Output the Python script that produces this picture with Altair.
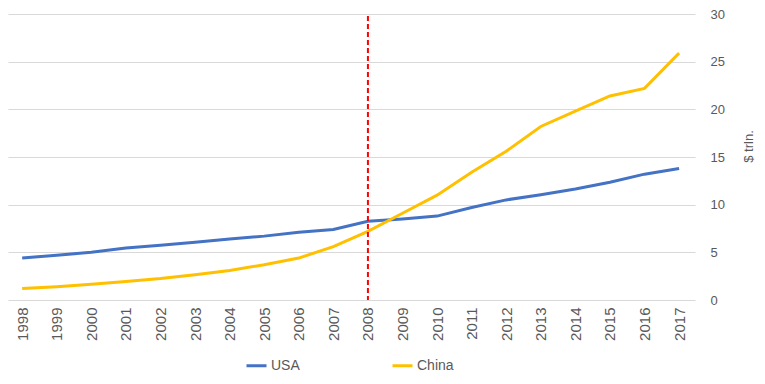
import altair as alt
import pandas as pd

years = list(range(1998, 2018))
usa = [4.4, 4.7, 5.0, 5.45, 5.75, 6.05, 6.4, 6.7, 7.1, 7.4, 8.25, 8.5, 8.8, 9.7, 10.5, 11.05, 11.65, 12.35, 13.2, 13.8]
china = [1.2, 1.4, 1.65, 1.95, 2.25, 2.65, 3.1, 3.7, 4.4, 5.6, 7.2, 9.1, 11.0, 13.4, 15.6, 18.2, 19.8, 21.4, 22.2, 25.9]
series = ["USA", "China"]
colors = ["#4472C4", "#FFC000"]
marker_year = 2008

rows = []
for i, y in enumerate(years):
    rows.append({"year": y, "value": usa[i], "series": "USA"})
    rows.append({"year": y, "value": china[i], "series": "China"})
df = pd.DataFrame(rows)

FONT = "Liberation Sans"
GREY = "#595959"

xscale = alt.Scale(domain=[years[0] - 0.41, years[-1] + 0.46], nice=False, zero=False)
yscale = alt.Scale(domain=[0, 30])

lines = alt.Chart(df).mark_line(strokeWidth=3).encode(
    x=alt.X("year:Q", scale=xscale,
            axis=alt.Axis(title=None, values=years, tickCount=len(years), format="d",
                          labelAngle=270, domain=False, ticks=False, grid=False,
                          labelPadding=7, labelFontSize=15, labelColor=GREY, labelFont=FONT,
                          labelFlush=False, labelOverlap=False, labelSeparation=0)),
    y=alt.Y("value:Q", scale=yscale,
            axis=alt.Axis(orient="right", values=[0, 5, 10, 15, 20, 25, 30], title="$ trln.",
                          domain=False, ticks=False, labelPadding=15, labelFontSize=13,
                          labelColor=GREY, labelFont=FONT, gridColor="#D9D9D9",
                          titleAngle=270, titleX=53, titleY=132, titleAlign="center",
                          titleBaseline="middle", titleFontSize=13, titleFontWeight="normal",
                          titleColor=GREY, titleFont=FONT)),
    color=alt.Color("series:N", scale=alt.Scale(domain=series, range=colors),
                    legend=alt.Legend(title=None, orient="none", legendX=237, legendY=340,
                                      direction="horizontal", columns=2, columnPadding=86,
                                      symbolType="stroke", symbolStrokeWidth=3, symbolSize=400,
                                      labelFontSize=14, labelColor=GREY, labelFont=FONT,
                                      labelOffset=3)),
    order=alt.Order("year:Q"),
)

rule_df = pd.DataFrame({"year": [marker_year], "top": [29.8], "bottom": [0]})
rule = alt.Chart(rule_df).mark_rule(color="#FF0000", strokeWidth=2, strokeDash=[5, 3]).encode(
    x=alt.X("year:Q", scale=xscale),
    y=alt.Y("top:Q", scale=yscale),
    y2="bottom:Q",
)

chart = (lines + rule).properties(
    width=687, height=286,
    padding={"left": 0, "top": 6, "right": 62, "bottom": 76},
    autosize=alt.AutoSizeParams(type="none"),
).configure_view(stroke=None).configure_axisX(labelOverlap=False)

chart.save("out.html", embed_options={"renderer": "svg", "actions": False})
